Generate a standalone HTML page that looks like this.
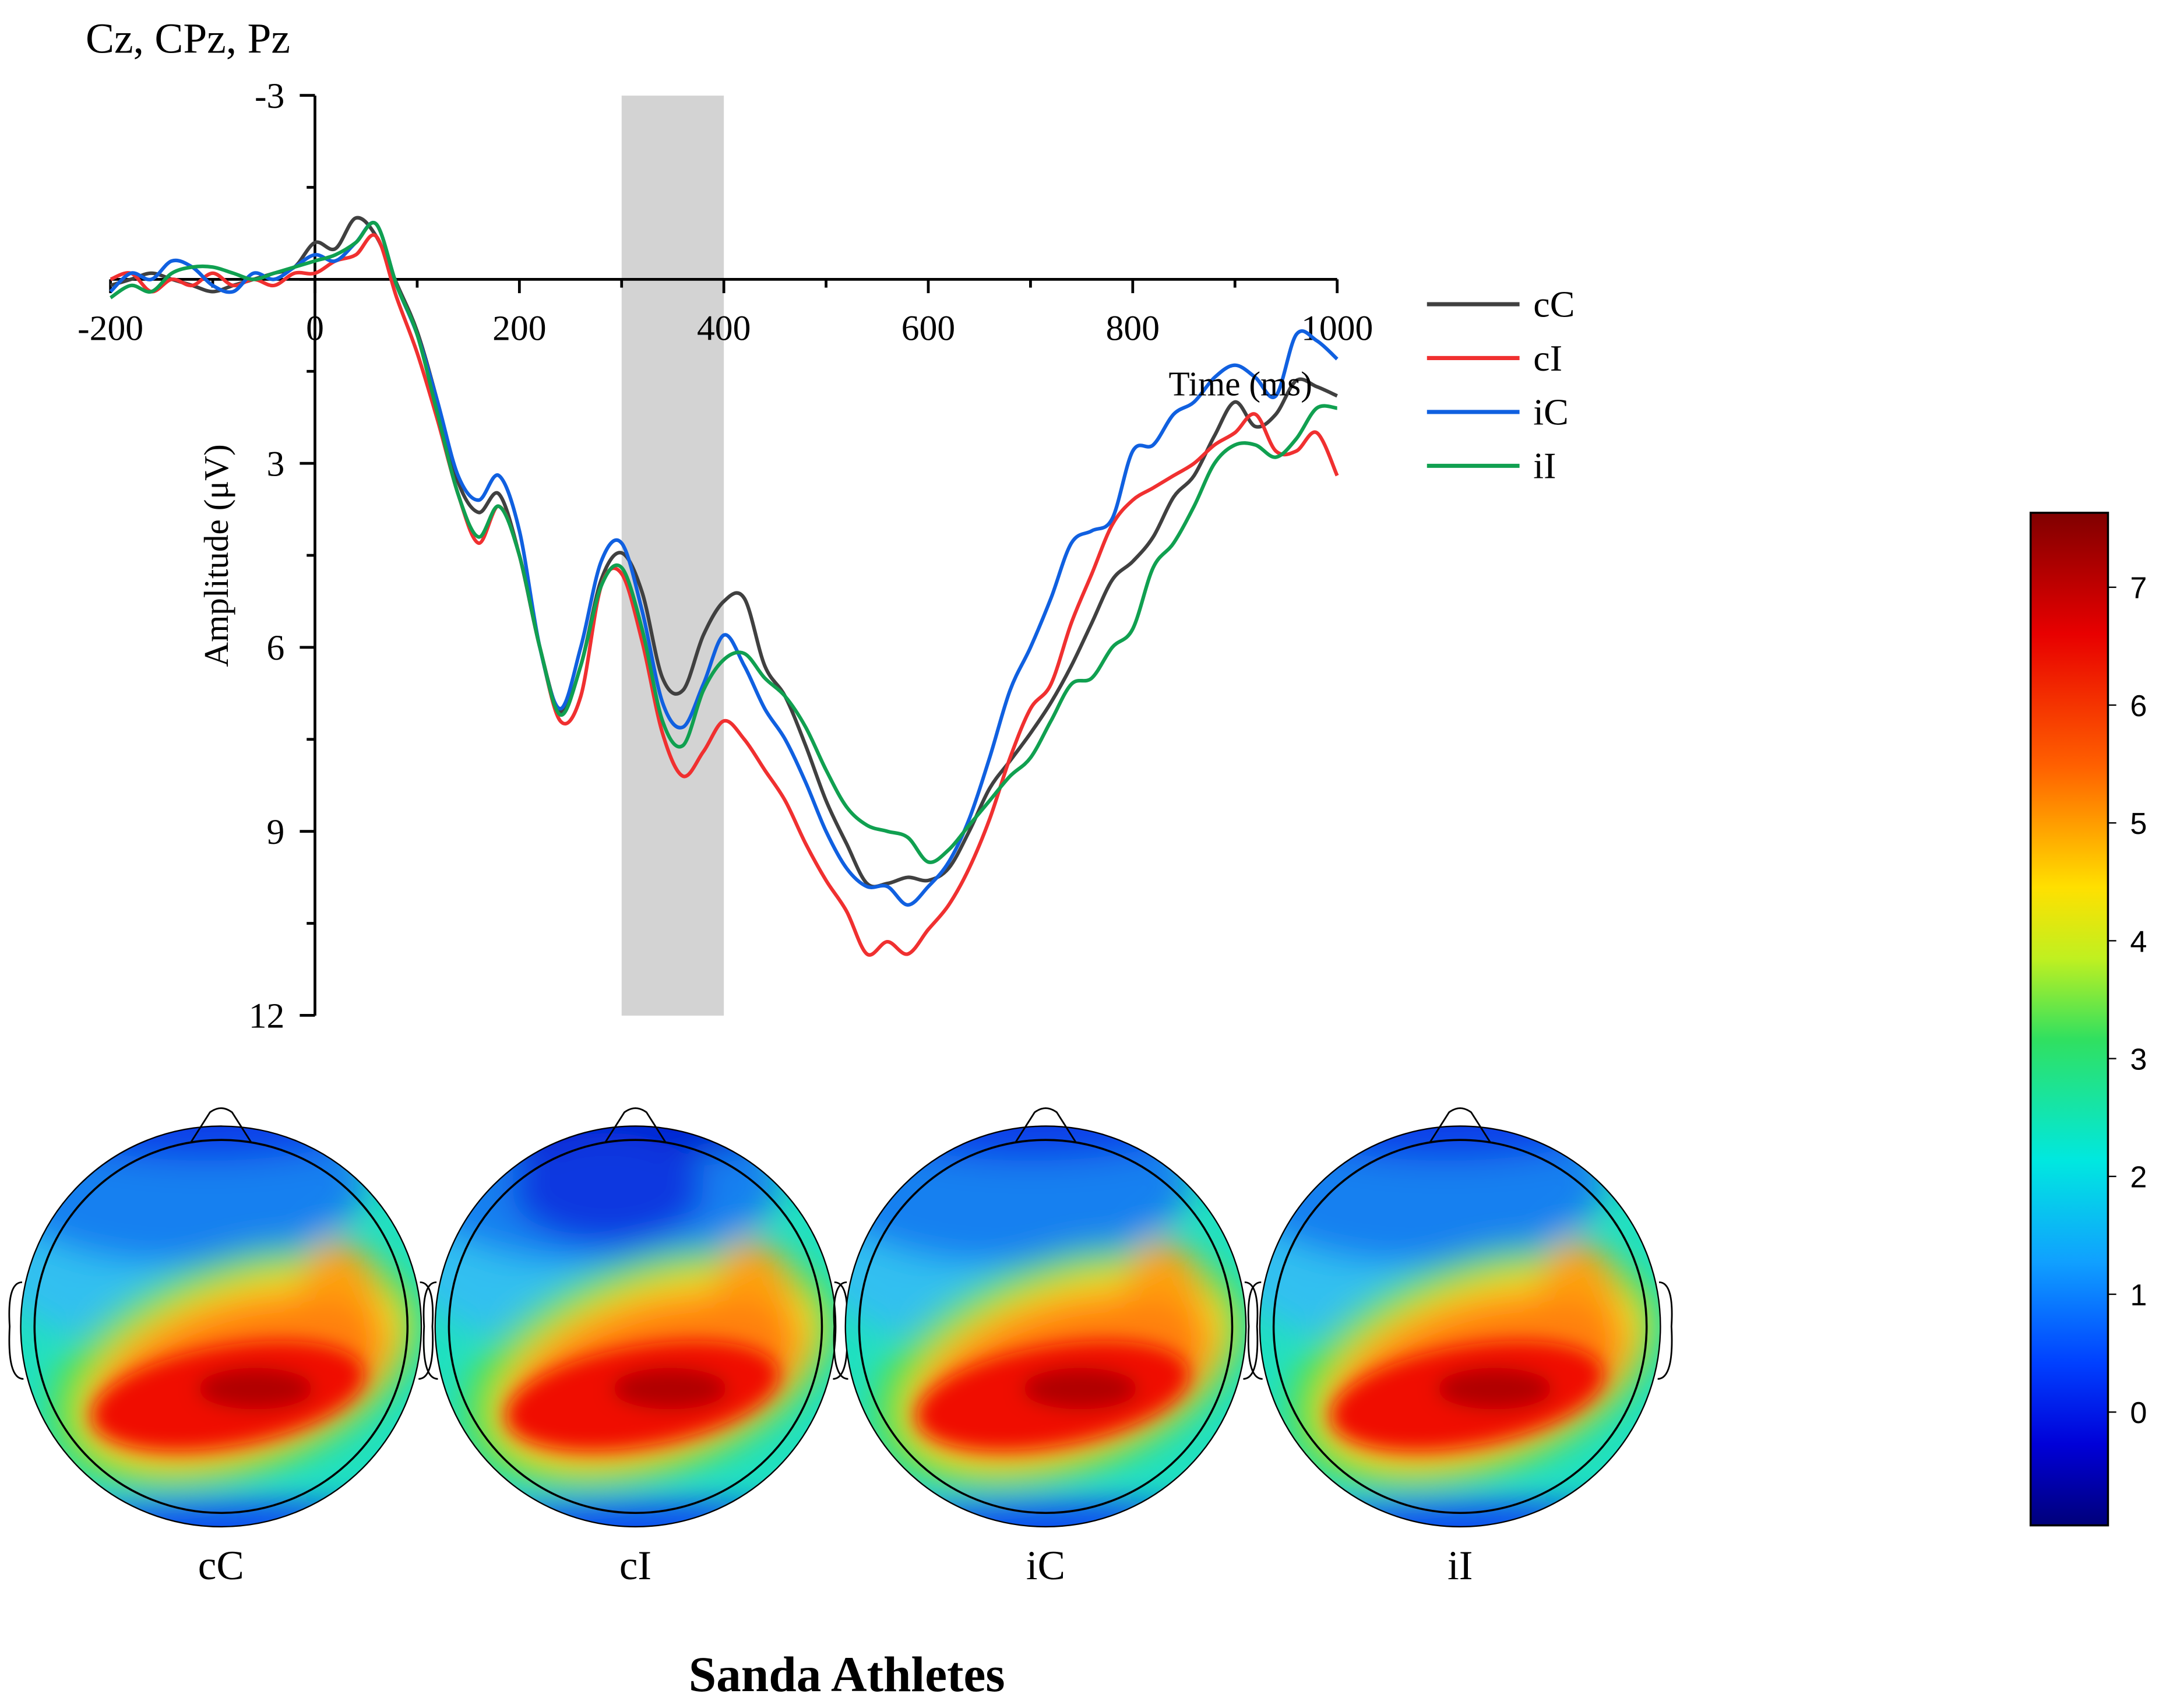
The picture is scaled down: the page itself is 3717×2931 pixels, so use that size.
<!DOCTYPE html>
<html><head><meta charset="utf-8"><style>
html,body{margin:0;padding:0;background:#fff;}
svg{display:block;font-family:"Liberation Serif",serif;}
</style></head><body>
<svg id="chart" width="3717" height="2931" viewBox="0 0 1568 1236" xmlns="http://www.w3.org/2000/svg">
<defs>
<linearGradient id="cbar" x1="0" y1="0" x2="0" y2="1">
<stop offset="0" stop-color="#800000"/><stop offset="0.12" stop-color="#e80000"/><stop offset="0.25" stop-color="#ff6000"/><stop offset="0.37" stop-color="#ffe000"/><stop offset="0.44" stop-color="#c0f020"/><stop offset="0.52" stop-color="#30e060"/><stop offset="0.64" stop-color="#00e8e0"/><stop offset="0.74" stop-color="#10a0ff"/><stop offset="0.84" stop-color="#0040ff"/><stop offset="0.92" stop-color="#0000d8"/><stop offset="1" stop-color="#00007a"/>
</linearGradient>
<filter id="blur" x="-50%" y="-50%" width="200%" height="200%"><feGaussianBlur stdDeviation="12"/></filter>
<filter id="blur2" x="-50%" y="-50%" width="200%" height="200%"><feGaussianBlur stdDeviation="7"/></filter>
</defs>
<text x="62" y="38" font-size="31">Cz, CPz, Pz</text>
<rect x="450" y="69" width="74" height="666" fill="#d3d3d3"/>
<g id="axes"></g>
<g id="series"></g>
<text x="898" y="286" font-size="25" text-anchor="middle">Time (ms)</text>
<text transform="translate(165,402) rotate(-90)" font-size="25" text-anchor="middle">Amplitude (μV)</text>
<g id="legend"></g>
<g id="topos"></g>
<rect x="1470" y="371" width="56" height="733" fill="url(#cbar)" stroke="#000" stroke-width="1.5"/>
<g id="cbticks"></g>
<text x="613" y="1224" font-size="36" font-weight="bold" text-anchor="middle">Sanda Athletes</text>
</svg>
<script>
const NS="http://www.w3.org/2000/svg";
const times=[-200,-180,-160,-140,-120,-100,-80,-60,-40,-20,0,20,40,60,80,100,120,140,160,180,200,220,240,260,280,300,320,340,360,380,400,420,440,460,480,500,520,540,560,580,600,620,640,660,680,700,720,740,760,780,800,820,840,860,880,900,920,940,960,980,1000];
const cC=[0.1,0.0,-0.1,0.0,0.1,0.2,0.1,0.0,-0.1,-0.2,-0.6,-0.5,-1.0,-0.7,0.07,0.85,2.0,3.3,3.8,3.5,4.5,6.0,7.05,6.3,4.9,4.46,5.1,6.5,6.7,5.8,5.25,5.2,6.3,6.8,7.6,8.5,9.2,9.85,9.85,9.75,9.8,9.6,9.0,8.3,7.85,7.4,6.9,6.3,5.6,4.9,4.6,4.2,3.55,3.2,2.55,2.0,2.4,2.2,1.65,1.75,1.9];
const cI=[0.0,-0.1,0.2,0.0,0.1,-0.1,0.1,0.0,0.1,-0.1,-0.1,-0.3,-0.4,-0.7,0.3,1.2,2.3,3.5,4.3,3.7,4.5,6.0,7.2,6.8,5.0,4.8,5.9,7.4,8.1,7.7,7.2,7.5,8.0,8.5,9.2,9.8,10.3,11.0,10.8,11.0,10.6,10.2,9.6,8.8,7.8,7.0,6.6,5.6,4.8,4.0,3.6,3.4,3.2,3.0,2.7,2.5,2.2,2.8,2.8,2.5,3.2];
const iC=[0.2,-0.1,0.0,-0.3,-0.2,0.1,0.2,-0.1,0.0,-0.2,-0.4,-0.3,-0.6,-0.9,0.1,0.9,2.0,3.2,3.6,3.2,4.1,6.0,7.0,6.0,4.6,4.3,5.4,6.9,7.3,6.6,5.8,6.3,7.0,7.5,8.2,9.0,9.6,9.9,9.9,10.2,9.9,9.5,8.8,7.8,6.7,6.0,5.2,4.3,4.1,3.9,2.8,2.7,2.2,2.0,1.6,1.4,1.6,1.9,0.9,1.0,1.3];
const iI=[0.3,0.1,0.2,-0.1,-0.2,-0.2,-0.1,0.0,-0.1,-0.2,-0.3,-0.4,-0.6,-0.9,0.1,0.9,2.2,3.5,4.2,3.7,4.5,6.0,7.1,6.3,5.0,4.7,5.7,7.2,7.6,6.7,6.2,6.1,6.5,6.8,7.3,8.0,8.6,8.9,9.0,9.1,9.5,9.3,8.9,8.5,8.1,7.8,7.2,6.6,6.5,6.0,5.7,4.7,4.3,3.7,3.0,2.7,2.7,2.9,2.6,2.1,2.1];
const seriesNames=["cC","cI","iC","iI"];
const seriesColors=["#404040","#f03030","#1060e0","#10a050"];
const xTicks=[-200,0,200,400,600,800,1000];
const yTicks=[-3,3,6,9,12];
const cbTicks=[0,1,2,3,4,5,6,7];
const topoLabels=["cC","cI","iC","iI"];

const X=t=>80+(t+200)*888/1200;
const Y=v=>202+v*44.4;
function el(tag,attrs,parent,text){const e=document.createElementNS(NS,tag);for(const k in attrs)e.setAttribute(k,attrs[k]);if(text!==undefined)e.textContent=text;parent.appendChild(e);return e;}
const axes=document.getElementById('axes');
let a=el('line',{x1:228,y1:69,x2:228,y2:735,stroke:'#000','stroke-width':2},axes);


a=el('line',{x1:80,y1:202,x2:968,y2:202,stroke:'#000','stroke-width':2},axes);


for(let v=-3;v<=12;v+=1.5){const major=Math.abs(v%3)<1e-9;el('line',{x1:major?217:222,y1:Y(v),x2:228,y2:Y(v),stroke:'#000','stroke-width':2},axes);}
yTicks.forEach(v=>{const t=el('text',{x:206,y:Y(v)+9,'font-size':26,'text-anchor':'end'},axes,String(v));

});
for(let t=-200;t<=1000;t+=100){el('line',{x1:X(t),y1:202,x2:X(t),y2:t%200===0?212:208,stroke:'#000','stroke-width':2},axes);}
xTicks.forEach(v=>{const t=el('text',{x:X(v),y:246,'font-size':26,'text-anchor':'middle'},axes,String(v));

});
function smooth(pts){let d=`M${pts[0][0]},${pts[0][1]}`;for(let i=0;i<pts.length-1;i++){const p0=pts[i-1]||pts[i],p1=pts[i],p2=pts[i+1],p3=pts[i+2]||p2;d+=` C${p1[0]+(p2[0]-p0[0])/6},${p1[1]+(p2[1]-p0[1])/6} ${p2[0]-(p3[0]-p1[0])/6},${p2[1]-(p3[1]-p1[1])/6} ${p2[0]},${p2[1]}`;}return d;}
const sg=document.getElementById('series');
[cC,cI,iC,iI].forEach((vals,i)=>{const p=el('path',{d:smooth(vals.map((v,j)=>[X(times[j]),Y(v)])),fill:'none',stroke:seriesColors[i],'stroke-width':2.6},sg);

});
const lg=document.getElementById('legend');
seriesNames.forEach((n,i)=>{const g=el('g',{},lg);


const y=220+i*39;el('line',{x1:1033,y1:y,x2:1100,y2:y,stroke:seriesColors[i],'stroke-width':3},g);el('text',{x:1110,y:y+9,'font-size':27},g,n);});
const tg=document.getElementById('topos');
[160,460,757,1057].forEach((cx,i)=>{const cy=960,r=145;const g=el('g',{},tg);


el('clipPath',{id:'c'+i},g);el('circle',{cx,cy,r},g.lastChild);
const ig=el('g',{'clip-path':`url(#c${i})`},g);
el('rect',{x:cx-r,y:cy-r,width:2*r,height:2*r,fill:'#20e0c0'},ig);
const bl=el('g',{filter:'url(#blur)'},ig);
el('ellipse',{cx:cx-50,cy:cy-55,rx:120,ry:70,fill:'#30c0f0'},bl);
el('ellipse',{cx:cx-30,cy:cy-105,rx:135,ry:60,fill:'#1880f0'},bl);
el('ellipse',{cx:cx-10,cy:cy-150,rx:120,ry:30,fill:i==1?'#0020d0':'#0840e8'},bl);
if(i==1)el('ellipse',{cx:cx-20,cy:cy-100,rx:70,ry:40,fill:'#0838e0'},bl);
el('ellipse',{cx:cx,cy:cy+150,rx:150,ry:25,fill:'#1050f0'},bl);
el('ellipse',{cx:cx+10,cy:cy+30,rx:140,ry:78,fill:'#60e040',transform:`rotate(-20 ${cx+10} ${cy+30})`},bl);
el('ellipse',{cx:cx+15,cy:cy+32,rx:122,ry:62,fill:'#ffd820',transform:`rotate(-20 ${cx+15} ${cy+32})`},bl);
el('ellipse',{cx:cx+85,cy:cy-5,rx:30,ry:58,fill:'#ffa010'},bl);
el('ellipse',{cx:cx+15,cy:cy+35,rx:108,ry:52,fill:'#ff8010',transform:`rotate(-15 ${cx+15} ${cy+35})`},bl);
const b2=el('g',{filter:'url(#blur2)'},ig);
el('ellipse',{cx:cx+5,cy:cy+50,rx:100,ry:36,fill:'#f01000',transform:`rotate(-10 ${cx+5} ${cy+50})`},b2);
el('ellipse',{cx:cx+25,cy:cy+45,rx:42,ry:15,fill:'#b00000'},b2);
el('circle',{cx,cy,r,fill:'none',stroke:'#000','stroke-width':1},g);
el('circle',{cx,cy,r:r-10,fill:'none',stroke:'#000','stroke-width':1.5},g);
el('path',{d:`M${cx-22},${cy-r+12} L${cx-8},${cy-r-10} Q${cx},${cy-r-16} ${cx+8},${cy-r-10} L${cx+22},${cy-r+12}`,fill:'none',stroke:'#000','stroke-width':1.2},g);
el('path',{d:`M${cx-r+1},${cy-32} Q${cx-r-10},${cy-32} ${cx-r-8},${cy} Q${cx-r-10},${cy+38} ${cx-r+2},${cy+38}`,fill:'none',stroke:'#000','stroke-width':1.2},g);
el('path',{d:`M${cx+r-1},${cy-32} Q${cx+r+10},${cy-32} ${cx+r+8},${cy} Q${cx+r+10},${cy+38} ${cx+r-2},${cy+38}`,fill:'none',stroke:'#000','stroke-width':1.2},g);
const lt=el('text',{x:cx,y:1143,'font-size':30,'text-anchor':'middle'},tg,topoLabels[i]);

});
const cb=document.getElementById('cbticks');
cbTicks.forEach(v=>{const y=1022-v*85.3;el('line',{x1:1526,y1:y,x2:1532,y2:y,stroke:'#000'},cb);const t=el('text',{x:1542,y:y+8,'font-size':22,'font-family':'Liberation Sans, sans-serif'},cb,String(v));

});
</script>
</body></html>
